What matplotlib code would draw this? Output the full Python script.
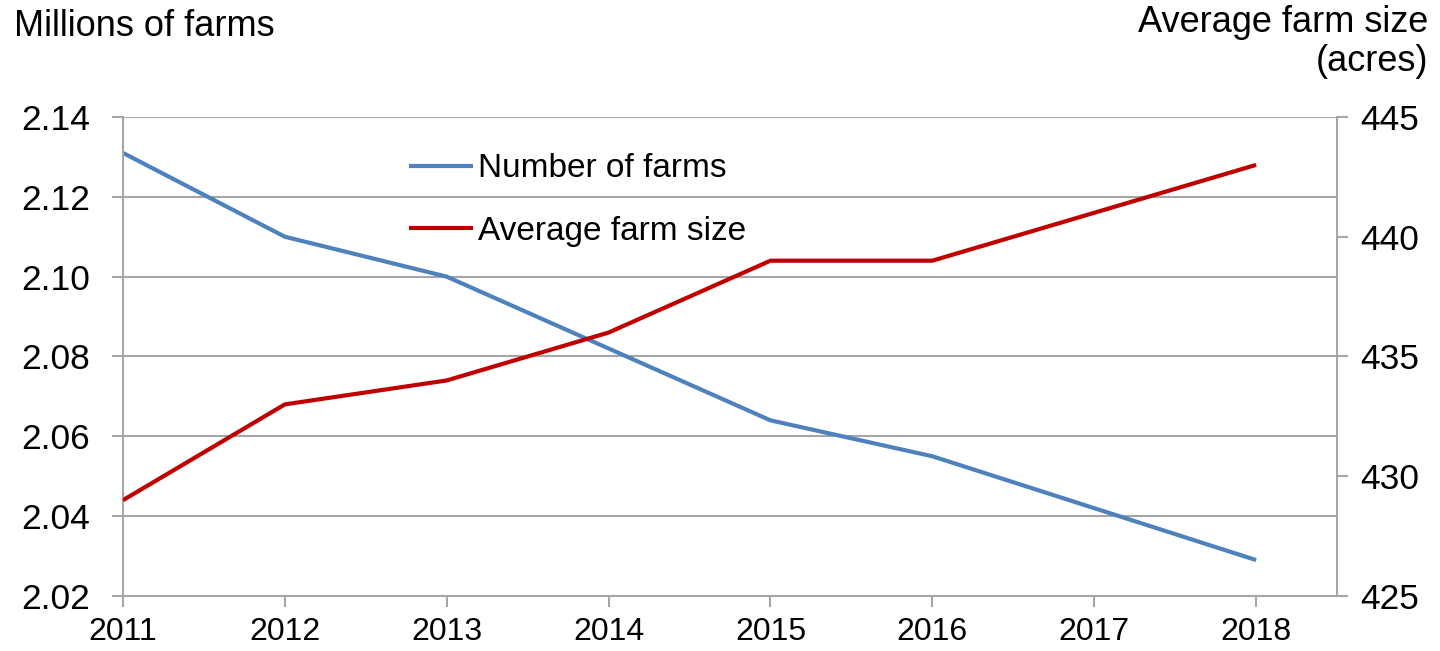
import matplotlib.pyplot as plt

years = [2011, 2012, 2013, 2014, 2015, 2016, 2017, 2018]
farms = [2.131, 2.110, 2.100, 2.082, 2.064, 2.055, 2.042, 2.029]   # millions
avg_size = [429, 433, 434, 436, 439, 439, 441, 443]                 # acres

left_ticks = [2.02, 2.04, 2.06, 2.08, 2.10, 2.12, 2.14]
right_ticks = [425, 430, 435, 440, 445]

plt.rcParams['font.family'] = ['Liberation Sans', 'DejaVu Sans']
grey = '#A6A6A6'
blue = '#4F81BD'
red = '#C00000'

fig = plt.figure(figsize=(14.4, 6.51), dpi=100)
ax = fig.add_axes([0.0854, 0.0845, 0.8431, 0.7358])
ax2 = ax.twinx()

l1, = ax.plot(years, farms, color=blue, lw=3, label='Number of farms', solid_capstyle='butt')
l2, = ax2.plot(years, avg_size, color=red, lw=3, label='Average farm size', solid_capstyle='butt')

ax.set_xlim(2011, 2018.5)
ax.set_ylim(2.02, 2.14)
ax2.set_ylim(425, 445)
ax.set_xticks(years)
ax.set_yticks(left_ticks)
ax.set_yticklabels(['%.2f' % v for v in left_ticks])
ax2.set_yticks(right_ticks)

ax.yaxis.grid(True, color=grey, lw=1.5)
ax.set_axisbelow(True)

for a in (ax, ax2):
    a.spines['top'].set_visible(False)
    for s in ('left', 'right', 'bottom'):
        a.spines[s].set_color(grey)
        a.spines[s].set_linewidth(1.5)
ax.spines['right'].set_visible(False)
ax2.spines['left'].set_visible(False)
ax2.spines['bottom'].set_visible(False)

ax.tick_params(axis='y', length=8, width=1.5, color=grey, pad=16, labelsize=25.5, labelcolor='black')
ax.tick_params(axis='x', length=8, width=1.5, color=grey, pad=7, labelsize=23, labelcolor='black')
ax2.tick_params(axis='y', length=8, width=1.5, color=grey, pad=9, labelsize=25.5, labelcolor='black')

ax2.legend(handles=[l1, l2], loc='center left', bbox_to_anchor=(0.236, 0.826),
           frameon=False, fontsize=24, handlelength=1.9, handletextpad=0.15,
           labelspacing=0.95, borderpad=0, borderaxespad=0)

fig.text(0.010, 0.960, 'Millions of farms', fontsize=26, ha='left', va='center')
fig.text(0.992, 0.992, 'Average farm size\n(acres)', fontsize=26, ha='right', va='top',
         multialignment='right', linespacing=1.15)

fig.savefig('out.png', dpi=100)
